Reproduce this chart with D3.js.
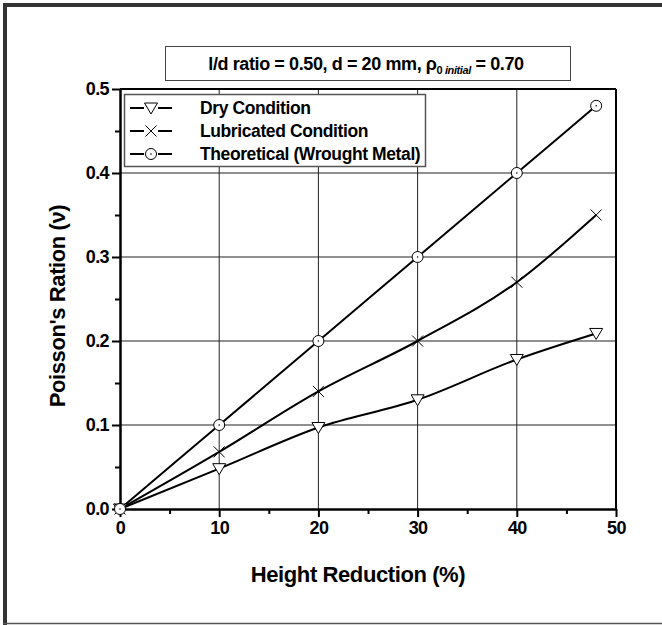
<!DOCTYPE html>
<html>
<head>
<style>
  body { margin: 0; background: #fff; }
  svg { display: block; font-family: "Liberation Sans", Arial, sans-serif; font-weight: bold; }
</style>
</head>
<body>
<svg id="svg" width="662" height="625"></svg>
<script src="https://d3js.org/d3.v7.min.js"></script>
<script>
  // data
  let reduction = [0, 10, 20, 30, 40, 48];
  let dry = [0, 0.048, 0.097, 0.13, 0.178, 0.209];
  let lubricated = [0, 0.068, 0.14, 0.2, 0.27, 0.35];
  let theoretical = [0, 0.1, 0.2, 0.3, 0.4, 0.48];
  let seriesNames = ["Dry Condition", "Lubricated Condition", "Theoretical (Wrought Metal)"];
  let markerTypes = ["triangle", "cross", "circle"];
  let xTicks = [0, 10, 20, 30, 40, 50];
  let yTicks = [0.0, 0.1, 0.2, 0.3, 0.4, 0.5];

  let margin = { left: 120, top: 89, right: 46, bottom: 116 };
  let width = 662 - margin.left - margin.right;
  let height = 625 - margin.top - margin.bottom;

  let svg = d3.select("#svg");

  // outer frame
  svg.append("line").attr("x1", 3).attr("x2", 662).attr("y1", 5).attr("y2", 5)
    .attr("stroke", "#333").attr("stroke-width", 4);
  svg.append("line").attr("x1", 5).attr("x2", 5).attr("y1", 3).attr("y2", 625)
    .attr("stroke", "#333").attr("stroke-width", 4);
  svg.append("line").attr("x1", 3).attr("x2", 662).attr("y1", 623.5).attr("y2", 623.5)
    .attr("stroke", "#555").attr("stroke-width", 1.5);

  let xScale = d3.scaleLinear().domain([0, 50]).range([0, width]);
  let yScale = d3.scaleLinear().domain([0, 0.5]).range([height, 0]);

  let g = svg.append("g").attr("transform", `translate(${margin.left},${margin.top})`);

  // grid
  g.append("g").selectAll("line")
    .data(xTicks.slice(1, -1)).join("line")
    .attr("x1", d => xScale(d)).attr("x2", d => xScale(d))
    .attr("y1", 0).attr("y2", height)
    .attr("stroke", "#222").attr("stroke-width", 1);
  g.append("g").selectAll("line")
    .data(yTicks.slice(1, -1)).join("line")
    .attr("x1", 0).attr("x2", width)
    .attr("y1", d => yScale(d)).attr("y2", d => yScale(d))
    .attr("stroke", "#222").attr("stroke-width", 1);

  // frame top and right
  g.append("line").attr("x1", 0).attr("x2", width).attr("y1", 0).attr("y2", 0)
    .attr("stroke", "#000").attr("stroke-width", 2);
  g.append("line").attr("x1", width).attr("x2", width).attr("y1", 0).attr("y2", height)
    .attr("stroke", "#000").attr("stroke-width", 2);

  // axes
  let xAxis = g.append("g").attr("transform", `translate(0,${height})`)
    .call(d3.axisBottom(xScale).tickValues(xTicks).tickSize(8).tickSizeOuter(0).tickPadding(4).tickFormat(d3.format("d")));
  g.append("g").attr("transform", `translate(0,${height})`)
    .call(d3.axisBottom(xScale).tickValues([5, 15, 25, 35, 45]).tickSize(5).tickFormat(""))
    .select(".domain").remove();
  let yAxis = g.append("g")
    .call(d3.axisLeft(yScale).tickValues(yTicks).tickSize(8).tickSizeOuter(0).tickPadding(3).tickFormat(d3.format(".1f")));
  g.append("g")
    .call(d3.axisLeft(yScale).tickValues([0.05, 0.15, 0.25, 0.35, 0.45]).tickSize(5).tickFormat(""))
    .select(".domain").remove();

  g.selectAll(".tick line").attr("stroke", "#000").attr("stroke-width", 2);
  g.selectAll(".domain").attr("stroke", "#000").attr("stroke-width", 2.5);
  xAxis.selectAll("text").attr("font-size", 18).attr("font-weight", "bold").attr("fill", "#000")
    .attr("font-family", "Liberation Sans, Arial, sans-serif").attr("letter-spacing", -0.6);
  yAxis.selectAll("text").attr("font-size", 18).attr("font-weight", "bold").attr("fill", "#000")
    .attr("font-family", "Liberation Sans, Arial, sans-serif").attr("letter-spacing", -0.6);

  // axis titles
  svg.append("text").attr("x", 358).attr("y", 582)
    .attr("text-anchor", "middle").attr("font-size", 22).attr("letter-spacing", -0.4)
    .text("Height Reduction (%)");
  svg.append("text").attr("transform", `translate(65,306) rotate(-90)`)
    .attr("text-anchor", "middle").attr("font-size", 22).attr("letter-spacing", -0.4)
    .text("Poisson's Ration (ν)");

  // title box
  svg.append("rect").attr("x", 165.5).attr("y", 46.5).attr("width", 405).attr("height", 34)
    .attr("fill", "#fff").attr("stroke", "#444").attr("stroke-width", 1);
  let title = svg.append("text").attr("x", 366).attr("y", 70).attr("text-anchor", "middle")
    .attr("font-size", 18).attr("letter-spacing", -0.4);
  title.append("tspan").text("l/d ratio = 0.50, d = 20 mm, ρ");
  title.append("tspan").attr("font-size", 11).attr("dy", 4).text("0 ");
  title.append("tspan").attr("font-size", 11).attr("font-style", "italic").text("initial");
  title.append("tspan").attr("dy", -4).text(" = 0.70");

  // series
  let seriesValues = [dry, lubricated, theoretical];
  let line = d3.line().curve(d3.curveMonotoneX)
    .x((d, i) => xScale(reduction[i]))
    .y(d => yScale(d));

  function drawMarker(sel, type) {
    if (type === "triangle") {
      sel.append("path").attr("d", "M-6.5,-5 L6.5,-5 L0,6 Z")
        .attr("fill", "#fff").attr("stroke", "#000").attr("stroke-width", 1);
    } else if (type === "cross") {
      sel.append("path").attr("d", "M-5.5,-5.5 L5.5,5.5 M-5.5,5.5 L5.5,-5.5")
        .attr("fill", "none").attr("stroke", "#000").attr("stroke-width", 1);
    } else {
      sel.append("circle").attr("r", 5.5).attr("fill", "#fff").attr("stroke", "#000").attr("stroke-width", 1);
      sel.append("circle").attr("r", 0.8).attr("fill", "#000");
    }
  }

  seriesValues.forEach((vals, s) => {
    g.append("path").datum(vals)
      .attr("d", line)
      .attr("fill", "none").attr("stroke", "#000").attr("stroke-width", 2);
  });
  seriesValues.forEach((vals, s) => {
    g.append("g").selectAll("g")
      .data(vals).join("g")
      .attr("transform", (d, i) => `translate(${xScale(reduction[i])},${yScale(d)})`)
      .each(function () { drawMarker(d3.select(this), markerTypes[s]); });
  });

  // legend
  let legend = svg.append("g");
  legend.append("rect").attr("x", 124.5).attr("y", 94.5).attr("width", 301).attr("height", 72)
    .attr("fill", "#fff").attr("stroke", "#555").attr("stroke-width", 1.5);
  seriesNames.forEach((name, i) => {
    let y = 108 + i * 23;
    let row = legend.append("g").attr("transform", `translate(151,${y})`);
    row.append("line").attr("x1", -21).attr("x2", -7).attr("stroke", "#000").attr("stroke-width", 2);
    row.append("line").attr("x1", 7).attr("x2", 21).attr("stroke", "#000").attr("stroke-width", 2);
    drawMarker(row, markerTypes[i]);
    legend.append("text").attr("x", 200).attr("y", y + 6).attr("font-size", 17.5)
      .attr("letter-spacing", -0.4).text(name);
  });
</script>
</body>
</html>
